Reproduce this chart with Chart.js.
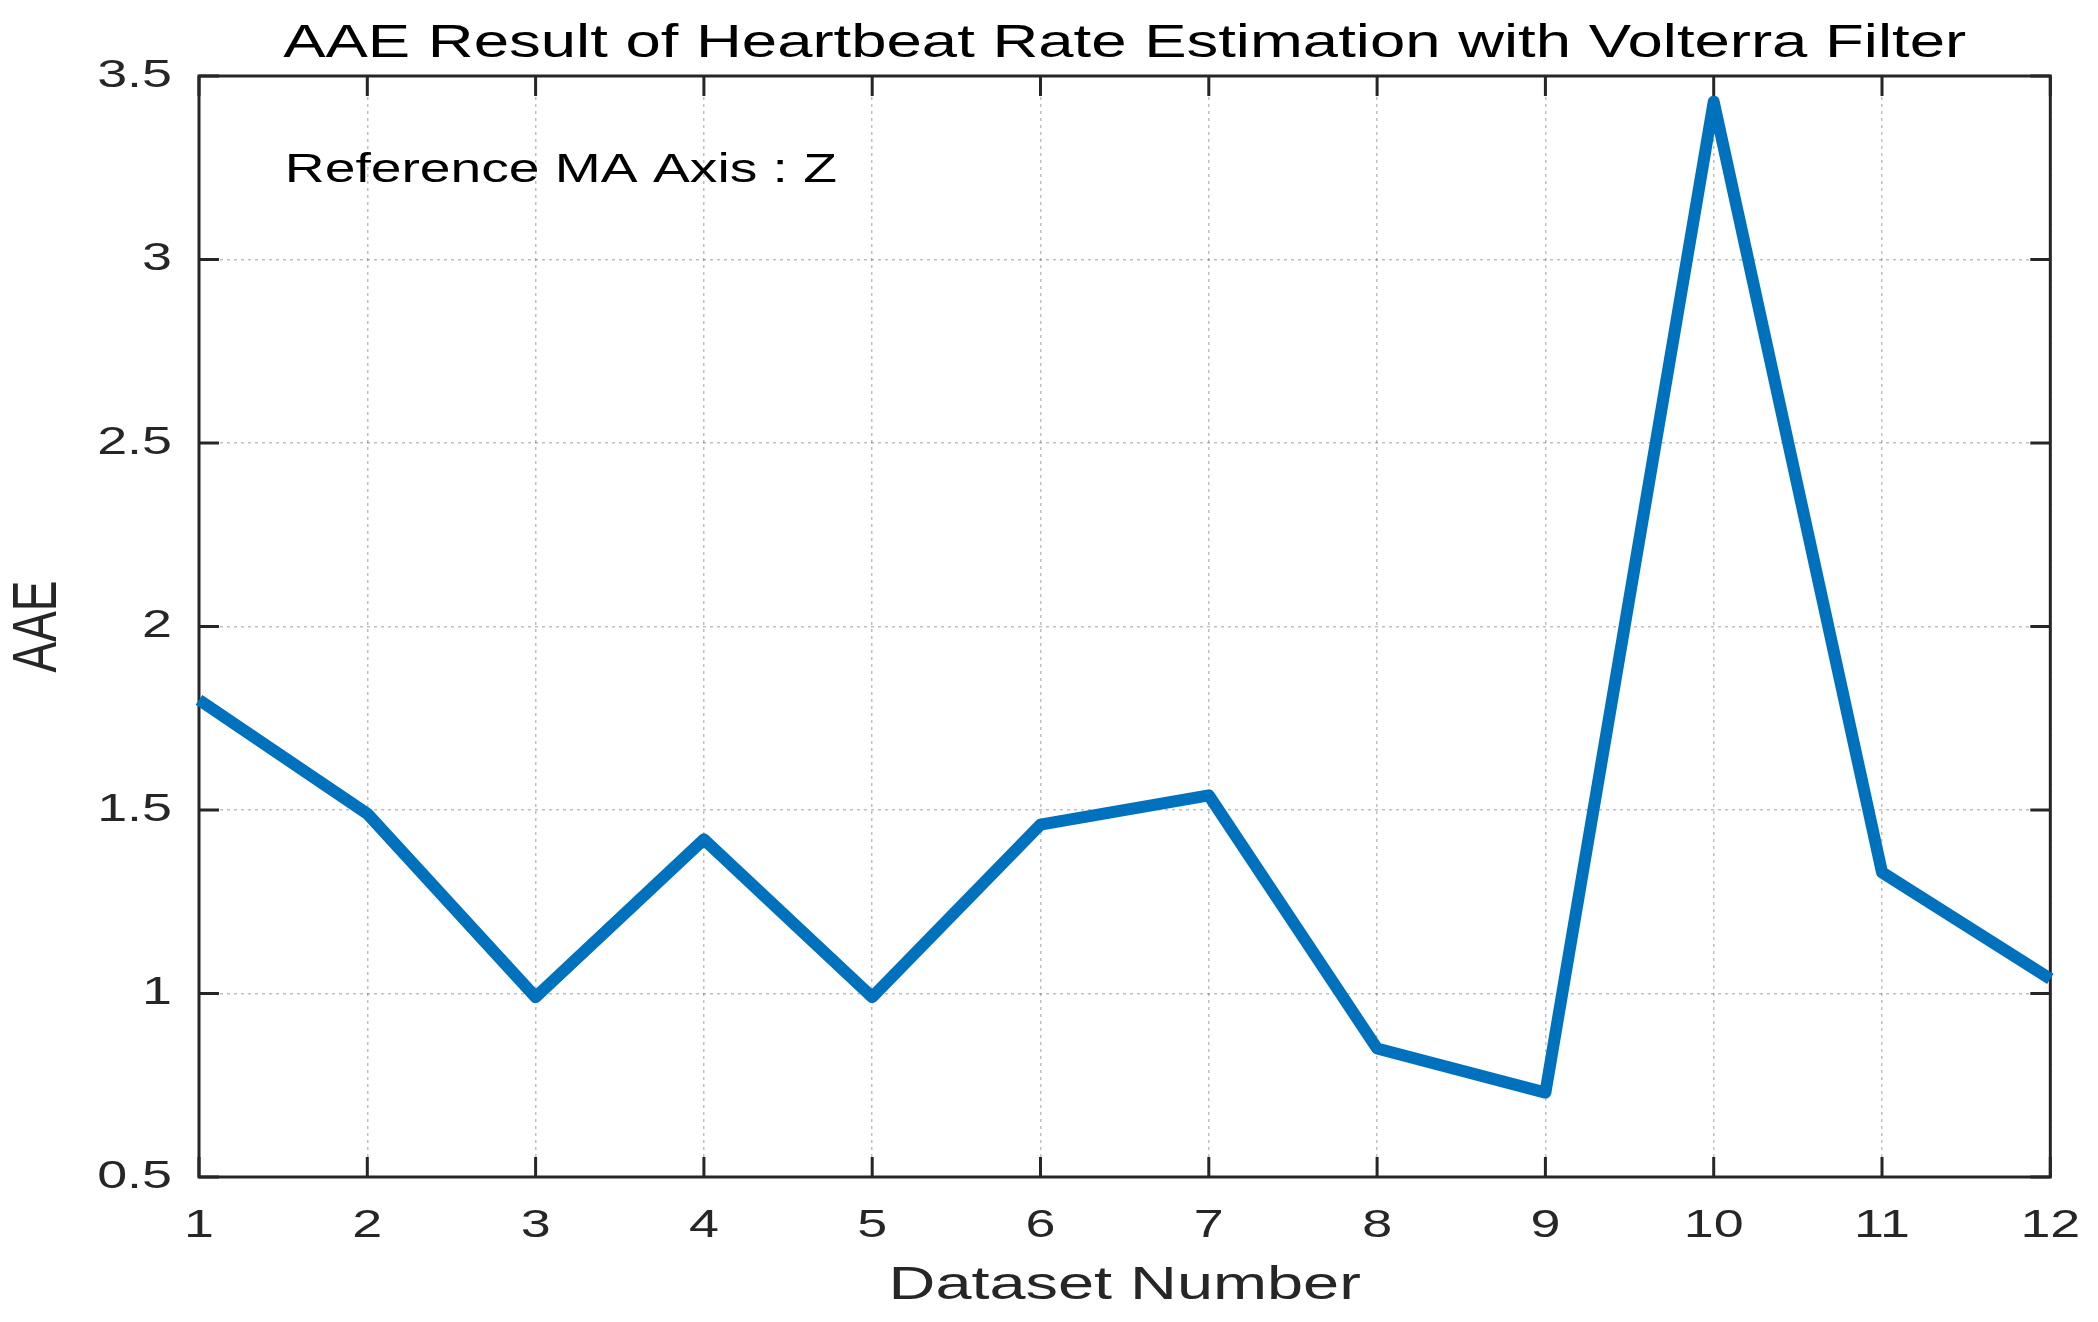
<!DOCTYPE html>
<html>
<head>
<meta charset="utf-8">
<script src="https://cdn.jsdelivr.net/npm/chart.js@4.4.1/dist/chart.umd.min.js"></script>
<style>
  html, body { margin: 0; padding: 0; background: #ffffff; }
  #c { display: block; }
</style>
</head>
<body>
<canvas id="c" width="2098" height="1322"></canvas>
<script>
// ---- data ----
const categories = ['1','2','3','4','5','6','7','8','9','10','11','12'];
const aaeValues = [1.80, 1.49, 0.99, 1.42, 0.99, 1.46, 1.54, 0.85, 0.73, 3.43, 1.33, 1.04];
const yTickValues = [0.5, 1, 1.5, 2, 2.5, 3, 3.5];
const yTickLabels = ['0.5', '1', '1.5', '2', '2.5', '3', '3.5'];
const titleText = 'AAE Result of Heartbeat Rate Estimation with Volterra Filter';
const xLabel = 'Dataset Number';
const yLabel = 'AAE';
const noteText = 'Reference MA Axis : Z';
const notePos = { x: 1.51, y: 3.24 }; // in dataset-number / AAE units

// ---- styles ----
const SX = 1.38; // horizontal text stretch of the reference figure
const FONT = '"Liberation Sans", Arial, Helvetica, sans-serif';
const AXC = '#262626';

const canvas = document.getElementById('c');
const ctx = canvas.getContext('2d');
const origFill = CanvasRenderingContext2D.prototype.fillText;
ctx.fillText = function (text, x, y) {
  const m = this.getTransform();
  const px = m.a * x + m.c * y + m.e;
  this.save();
  const s = new DOMMatrix([SX, 0, 0, 1, px * (1 - SX), 0]).multiply(m);
  this.setTransform(s);
  origFill.apply(this, arguments);
  this.restore();
};

const framePlugin = {
  id: 'frame',
  beforeDatasetsDraw(chart) {
    const a = chart.chartArea;
    const c = chart.ctx;
    const xs = chart.scales.x, ys = chart.scales.y;
    c.save();
    c.strokeStyle = AXC;
    c.lineWidth = 3;
    c.setLineDash([]);
    c.strokeRect(a.left, a.top, a.right - a.left, a.bottom - a.top);
    const TL = 20;
    c.beginPath();
    categories.forEach((lab, i) => {
      const px = xs.getPixelForValue(i);
      c.moveTo(px, a.bottom); c.lineTo(px, a.bottom - TL);
      c.moveTo(px, a.top); c.lineTo(px, a.top + TL);
    });
    yTickValues.forEach(v => {
      const py = ys.getPixelForValue(v);
      c.moveTo(a.left, py); c.lineTo(a.left + TL, py);
      c.moveTo(a.right, py); c.lineTo(a.right - TL, py);
    });
    c.stroke();
    // annotation
    const nx = xs.getPixelForValue(0) + (notePos.x - 1) * (xs.getPixelForValue(1) - xs.getPixelForValue(0));
    const ny = ys.getPixelForValue(notePos.y);
    c.fillStyle = '#000000';
    c.font = '40px ' + FONT;
    c.textAlign = 'left';
    c.textBaseline = 'middle';
    c.fillText(noteText, nx, ny);
    c.restore();
  }
};

new Chart(ctx, {
  type: 'line',
  data: {
    labels: categories,
    datasets: [{
      data: aaeValues,
      borderColor: '#0072BD',
      borderWidth: 12,
      pointRadius: 0,
      tension: 0,
      fill: false,
      borderJoinStyle: 'round',
      borderCapStyle: 'butt',
      clip: false
    }]
  },
  options: {
    responsive: false,
    animation: false,
    devicePixelRatio: 1,
    layout: { padding: { left: 0, right: 43, top: 0, bottom: 0 } },
    plugins: { legend: { display: false }, title: { display: false }, tooltip: { enabled: false } },
    scales: {
      x: {
        type: 'category',
        position: 'bottom',
        offset: false,
        grid: { display: true, drawTicks: false, color: 'rgba(0,0,0,0.25)', lineWidth: 1.5 },
        border: { display: false, dash: [3, 4] },
        ticks: { color: AXC, font: { family: FONT, size: 39 }, padding: 26, autoSkip: false, maxRotation: 0 },
        title: { display: true, text: xLabel, color: AXC, font: { family: FONT, size: 47 }, padding: { top: 0, bottom: 8 } },
        afterFit(s) { s.height = 145; }
      },
      x2: {
        type: 'category',
        position: 'top',
        offset: false,
        grid: { display: false },
        border: { display: false },
        ticks: { display: false },
        title: { display: true, text: titleText, color: '#000000', font: { family: FONT, size: 46 }, padding: { top: 17, bottom: 0 } },
        afterFit(s) { s.height = 76; }
      },
      y: {
        type: 'linear',
        min: 0.5,
        max: 3.5,
        afterBuildTicks(s) { s.ticks = yTickValues.map(v => ({ value: v })); },
        grid: { display: true, drawTicks: false, color: 'rgba(0,0,0,0.25)', lineWidth: 1.5 },
        border: { display: false, dash: [3, 4] },
        ticks: {
          color: AXC, font: { family: FONT, size: 39 }, padding: 27,
          callback(value) { const i = yTickValues.indexOf(value); return i >= 0 ? yTickLabels[i] : ''; }
        },
        title: { display: true, text: yLabel, color: AXC, font: { family: FONT, size: 46 }, padding: { top: 11, bottom: 0 } },
        afterFit(s) { s.width = 199; }
      }
    }
  },
  plugins: [framePlugin]
});
</script>
</body>
</html>
